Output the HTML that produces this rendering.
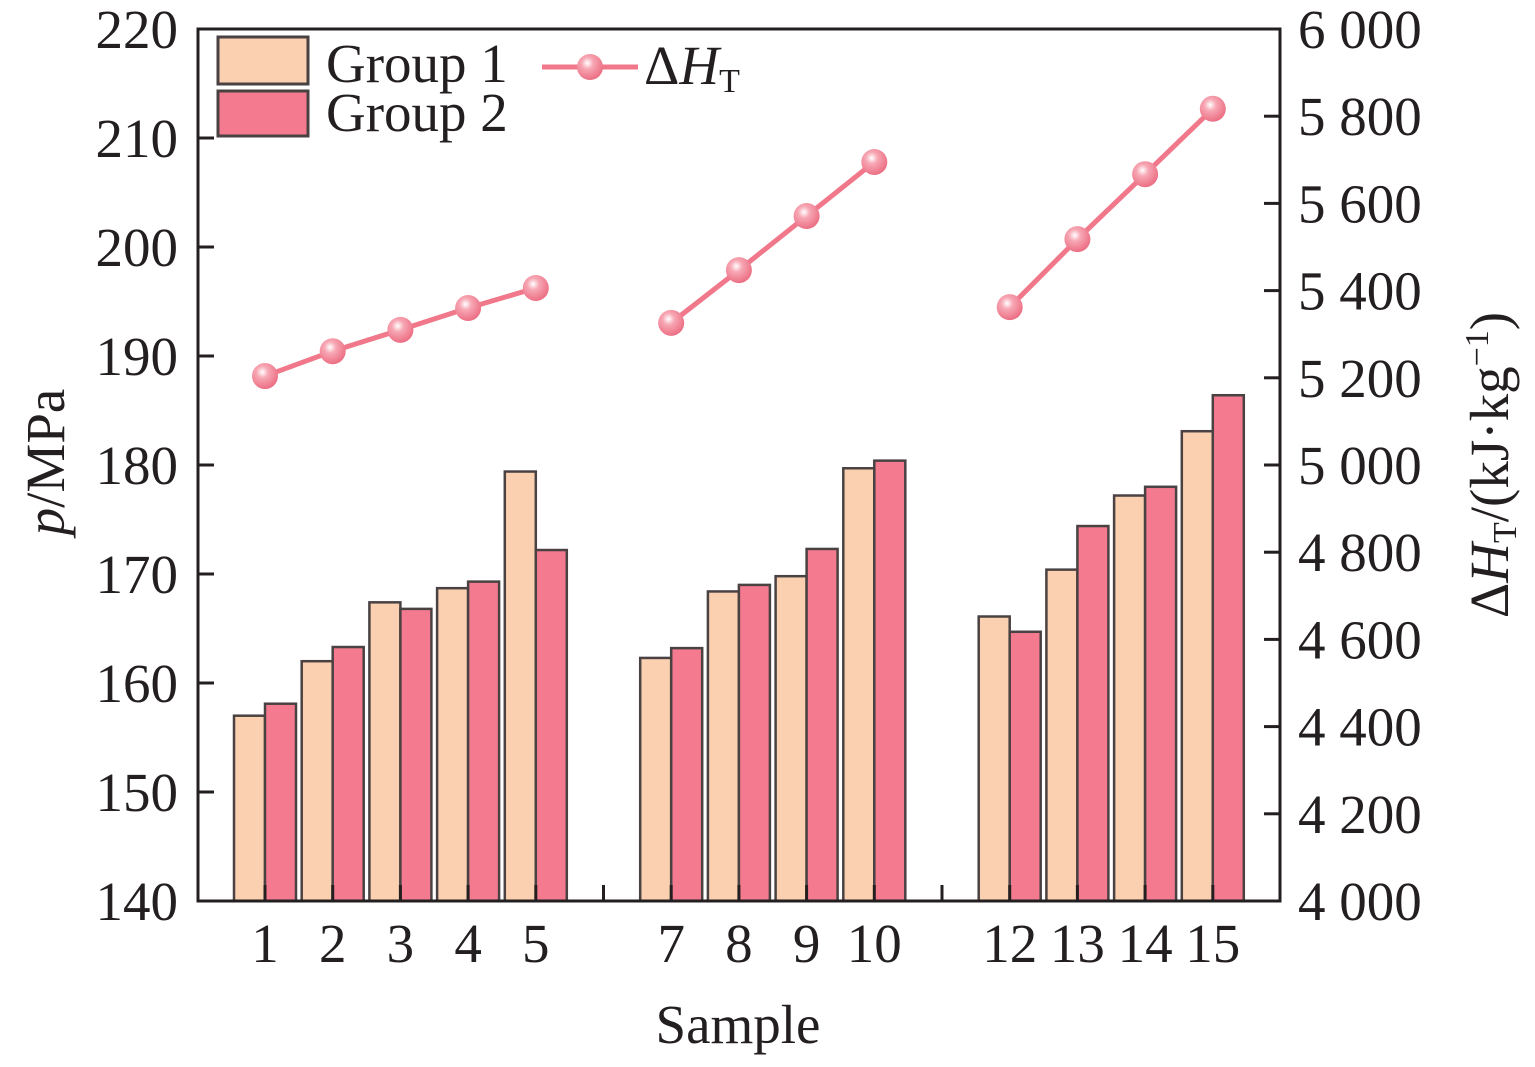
<!DOCTYPE html>
<html><head><meta charset="utf-8"><style>
html,body{margin:0;padding:0;background:#fff;}
svg text{font-family:"Liberation Serif",serif;fill:#231f20;}
</style></head><body>
<svg id="chart" width="1535" height="1062" xmlns="http://www.w3.org/2000/svg">
<defs>
<radialGradient id="ball" cx="0.4" cy="0.35" r="0.65">
<stop offset="0" stop-color="#ffffff"/><stop offset="0.35" stop-color="#f7a7b4"/><stop offset="1" stop-color="#ec6f84"/>
</radialGradient>
</defs>
<g id="bars"></g>
<g id="line"></g>
<g id="axes"></g>
<g>
<rect x="218" y="37" width="90" height="47" fill="#fbd0b0" stroke="#4a4242" stroke-width="3"/>
<text x="326" y="82" font-size="55">Group 1</text>
<rect x="218" y="91" width="90" height="45" fill="#f47b8f" stroke="#4a4242" stroke-width="3"/>
<text x="326" y="131" font-size="55">Group 2</text>
<line x1="542" y1="67" x2="638" y2="67" stroke="#f0788a" stroke-width="5"/>
<circle cx="590" cy="67" r="13" fill="url(#ball)"/>
<text x="644" y="84" font-size="55">Δ<tspan font-style="italic">H</tspan><tspan font-size="34" dy="8">T</tspan></text>
</g>
<text x="738" y="1043" font-size="55" text-anchor="middle">Sample</text>
<text transform="translate(64,462) rotate(-90)" font-size="55" text-anchor="middle"><tspan font-style="italic">p</tspan>/MPa</text>
<text transform="translate(1508,465) rotate(-90)" font-size="55" text-anchor="middle">Δ<tspan font-style="italic">H</tspan><tspan font-size="34" dy="8">T</tspan><tspan dy="-8">/(kJ·kg</tspan><tspan font-size="34" dy="-20">−1</tspan><tspan dy="20">)</tspan></text>
</svg>
<script>
const categories=[1,2,3,4,5,7,8,9,10,12,13,14,15];
const group1=[157.0,162.0,167.4,168.7,179.4,162.3,168.4,169.8,179.7,166.1,170.4,177.2,183.1];
const group2=[158.1,163.3,166.8,169.3,172.2,163.2,169.0,172.3,180.4,164.7,174.4,178.0,186.4];
const deltaH=[5204,5261,5310,5360,5406,5326,5447,5571,5695,5362,5518,5667,5817];
const leftTicks=[140,150,160,170,180,190,200,210,220];
const rightTicks=[4000,4200,4400,4600,4800,5000,5200,5400,5600,5800,6000];
const rightTickLabels=["4 000","4 200","4 400","4 600","4 800","5 000","5 200","5 400","5 600","5 800","6 000"];
const xTicks=[1,2,3,4,5,6,7,8,9,10,11,12,13,14,15];
const groups=[[1,2,3,4,5],[7,8,9,10],[12,13,14,15]];

const L=198,R=1280,T=29,B=901;
const xS=n=>265+(n-1)*67.7;
const yL=v=>B-(v-140)/80*(B-T);
const yR=v=>B-(v-4000)/2000*(B-T);
const NS="http://www.w3.org/2000/svg";
function mk(tag,attrs,parent){const e=document.createElementNS(NS,tag);for(const k in attrs)e.setAttribute(k,attrs[k]);parent.appendChild(e);return e;}
const bars=document.getElementById('bars'),line=document.getElementById('line'),axes=document.getElementById('axes');
const bw=31;
categories.forEach((c,i)=>{
  const x=xS(c);
  let r=mk('rect',{x:x-bw,y:yL(group1[i]),width:bw,height:B-yL(group1[i]),fill:'#fbd0b0',stroke:'#4a4242','stroke-width':2.5},bars);
  
  
  r=mk('rect',{x:x,y:yL(group2[i]),width:bw,height:B-yL(group2[i]),fill:'#f47b8f',stroke:'#4a4242','stroke-width':2.5},bars);
  
  
});
groups.forEach(g=>{
  const pts=g.map(c=>{const i=categories.indexOf(c);return xS(c)+','+yR(deltaH[i]);}).join(' ');
  const p=mk('polyline',{points:pts,fill:'none',stroke:'#f0788a','stroke-width':5},line);
  
  
});
categories.forEach((c,i)=>{
  const m=mk('circle',{cx:xS(c),cy:yR(deltaH[i]),r:13,fill:'url(#ball)'},line);
  
  
});
const fr=mk('rect',{x:L,y:T,width:R-L,height:B-T,fill:'none',stroke:'#231f20','stroke-width':3},axes);


leftTicks.forEach(v=>{
  const y=yL(v);
  const t=mk('line',{x1:L,y1:y,x2:L+16,y2:y,stroke:'#231f20','stroke-width':3},axes);
  
  
  const tx=mk('text',{x:178,y:y+19,'font-size':55,'text-anchor':'end'},axes);
  tx.textContent=v;
  
  
});
rightTicks.forEach((v,i)=>{
  const y=yR(v);
  const t=mk('line',{x1:R-16,y1:y,x2:R,y2:y,stroke:'#231f20','stroke-width':3},axes);
  
  
  const tx=mk('text',{x:1298,y:y+19,'font-size':55},axes);
  tx.textContent=rightTickLabels[i];
  
  
});
xTicks.forEach(n=>{
  const x=xS(n);
  const t=mk('line',{x1:x,y1:B-16,x2:x,y2:B,stroke:'#231f20','stroke-width':3},axes);
  
  
});
categories.forEach(c=>{
  const tx=mk('text',{x:xS(c),y:962,'font-size':55,'text-anchor':'middle'},axes);
  tx.textContent=c;
  
  
});
</script>
</body></html>
